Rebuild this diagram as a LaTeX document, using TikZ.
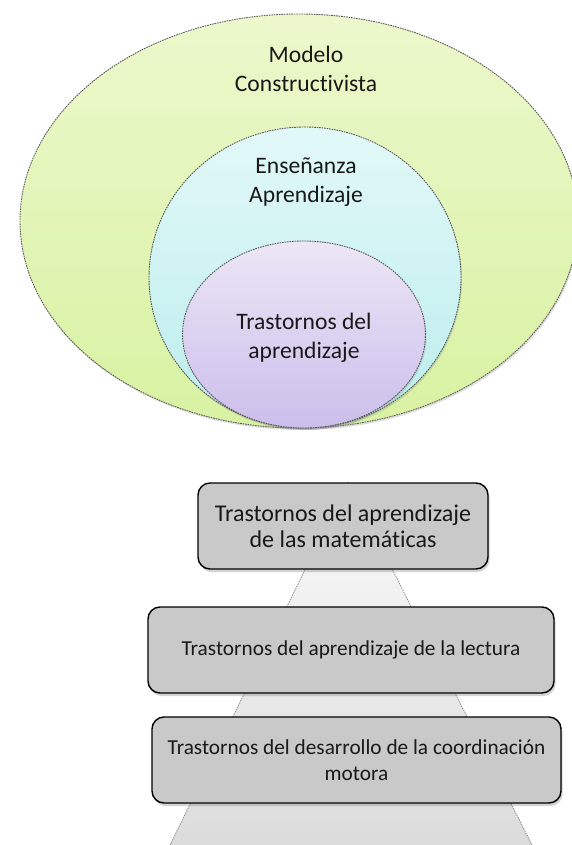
\documentclass[tikz,border=0pt]{standalone}
\usepackage{fontspec}
\setmainfont{Carlito}[Ligatures=NoCommon]
\usetikzlibrary{shapes.geometric,shadows}

\definecolor{verdeA}{RGB}{236,248,204}
\definecolor{verdeB}{RGB}{216,242,162}
\definecolor{cianA}{RGB}{226,248,248}
\definecolor{cianB}{RGB}{188,237,237}
\definecolor{lilaA}{RGB}{236,230,246}
\definecolor{lilaB}{RGB}{204,190,235}
\definecolor{cajagris}{RGB}{201,201,201}

\begin{document}
\begin{tikzpicture}[x=1pt, y=1pt,
    conjunto/.style={ellipse, draw=black!65, line width=0.9pt, dash pattern=on 1.6pt off 0.9pt,
        inner sep=0pt, drop shadow={opacity=0.25, shadow xshift=1pt, shadow yshift=-2pt}},
    rotulo/.style={align=center, font=\fontsize{23.6}{29}\selectfont, text=black!90},
    caja/.style={draw=black, line width=1.4pt, rounded corners=12pt, fill=cajagris,
        align=center, minimum height=86pt, inner sep=2pt, text=black!90,
        drop shadow={opacity=0.35, shadow xshift=1.5pt, shadow yshift=-3pt}},
    lado/.style={draw=black!45, line width=0.8pt, dash pattern=on 1.5pt off 1pt}
  ]
    \useasboundingbox (0,0) rectangle (571,-845);

    % Conjuntos
    \node[conjunto, minimum width=558pt, minimum height=414pt,
          top color=verdeA, bottom color=verdeB] (modelo) at (299,-221) {};
    \node[conjunto, minimum width=312pt, minimum height=301pt,
          top color=cianA, bottom color=cianB] (ensenanza) at (305,-277.5) {};
    \node[conjunto, minimum width=243pt, minimum height=187pt,
          top color=lilaA, bottom color=lilaB] (trastornos) at (304,-334.5) {};

    \node[rotulo] (tmodelo) at (306,-69) {Modelo\\Constructivista};
    \node[rotulo] (tensenanza) at (306,-182) {Enseñanza\\Aprendizaje};
    \node[rotulo] (ttrastornos) at (304,-338) {Trastornos del\\aprendizaje};

    % Piramide de fondo
    \coordinate (cima) at (348,-482);
    \coordinate (baseizq) at (170,-845);
    \coordinate (baseder) at (532,-845);
    \shade[top color=gray!3, bottom color=gray!28] (cima) -- (baseizq) -- (baseder) -- cycle;
    \draw[lado] (baseizq) -- (cima) -- (baseder);

    % Niveles
    \node[caja, minimum width=290pt, font=\fontsize{24}{26}\selectfont] (matematicas) at (343,-526)
        {Trastornos del aprendizaje\\de las matemáticas};
    \node[caja, minimum width=406pt, font=\fontsize{21.3}{26}\selectfont] (lectura) at (351,-650)
        {Trastornos del aprendizaje de la lectura};
    \node[caja, minimum width=409pt, font=\fontsize{21.3}{26}\selectfont] (motora) at (356.5,-760)
        {Trastornos del desarrollo de la coordinación\\motora};
\end{tikzpicture}
\end{document}
